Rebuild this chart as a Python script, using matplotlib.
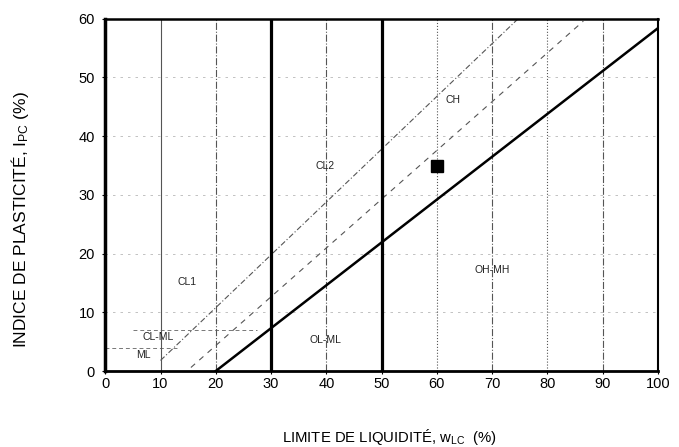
import matplotlib
matplotlib.use("Agg")
import matplotlib.pyplot as plt
import numpy as np

plt.rcParams.update({"font.family": ["Liberation Sans", "DejaVu Sans"],
                     "mathtext.fontset": "custom",
                     "mathtext.rm": "Liberation Sans",
                     "mathtext.it": "Liberation Sans"})

# boundary lines (liquid limit, plasticity index)
a_line_x = [20, 100]
a_line_y = [0, 58.4]
u_line_x = [10, 74.7]
u_line_y = [1.8, 60]
mid_line_x = [15.5, 86.5]
mid_line_y = [0.6, 59.6]
thick_vlines = [30, 50]
thin_vlines = [10, 20, 40, 60, 70, 80, 90]
thin_vline_styles = ["-", "-.", "-.", ":", "-.", ":", "-."]
hgrid = [10, 20, 30, 40, 50]
clml_x = [[0, 13], [5, 27.5]]
clml_y = [4, 7]

# sample point
sample_wl = [60]
sample_ip = [35]

zones = ["CL1", "CL2", "CH", "CL-ML", "ML", "OL-ML", "OH-MH"]
zone_x = [14.8, 39.8, 62.9, 9.6, 6.9, 39.8, 70.0]
zone_y = [15.1, 35.0, 46.1, 5.8, 2.7, 5.3, 17.2]

fig = plt.figure(figsize=(6.79, 4.47), dpi=100)
ax = fig.add_axes([0.155, 0.170, 0.814, 0.788])

for y in hgrid:
    ax.axhline(y, color="#b8b8b8", lw=0.6, ls=(0, (3, 6)), zorder=1)
for (x0, x1), y in zip(clml_x, clml_y):
    ax.plot([x0, x1], [y, y], color="#777777", lw=0.7, ls=(0, (4, 3)), zorder=1)
for x, ls in zip(thin_vlines, thin_vline_styles):
    ax.axvline(x, color="#555555", lw=0.8, ls=ls, zorder=1)
for x in thick_vlines:
    ax.axvline(x, color="black", lw=2.3, zorder=3)

ax.plot(u_line_x, u_line_y, color="#555555", lw=0.8, ls=(0, (5, 2, 1, 2)), zorder=2)
ax.plot(mid_line_x, mid_line_y, color="#555555", lw=0.8, ls=(0, (5, 5)), zorder=2)
ax.plot(a_line_x, a_line_y, color="black", lw=1.8, zorder=3)

ax.plot(sample_wl, sample_ip, marker="s", color="black", ms=8.5, ls="none", zorder=4)

for t, x, y in zip(zones, zone_x, zone_y):
    ax.text(x, y, t, fontsize=7.5, ha="center", va="center", color="#222222", zorder=5)

ax.set_xlim(0, 100)
ax.set_ylim(0, 60)
ax.set_xticks(np.arange(0, 101, 10))
ax.set_yticks(np.arange(0, 61, 10))
ax.tick_params(direction="out", length=2.5, width=0.8, labelsize=10.5)
ax.tick_params(axis="x", pad=1.5)
ax.tick_params(axis="y", pad=5)
ax.set_xlabel(r"LIMITE DE LIQUIDITÉ, w$\mathregular{_{LC}}$  (%)", fontsize=10.7, va="center")
ax.set_ylabel(r"INDICE DE PLASTICITÉ, I$\mathregular{_{PC}}$ (%)", fontsize=12.5, va="center")
ax.xaxis.set_label_coords(0.515, -0.1875)
ax.yaxis.set_label_coords(-0.154, 0.43)

ax.spines["left"].set_linewidth(2.5)
ax.spines["bottom"].set_linewidth(2.0)
ax.spines["top"].set_linewidth(1.8)
ax.spines["right"].set_linewidth(1.5)

fig.savefig("out.png", dpi=100)
